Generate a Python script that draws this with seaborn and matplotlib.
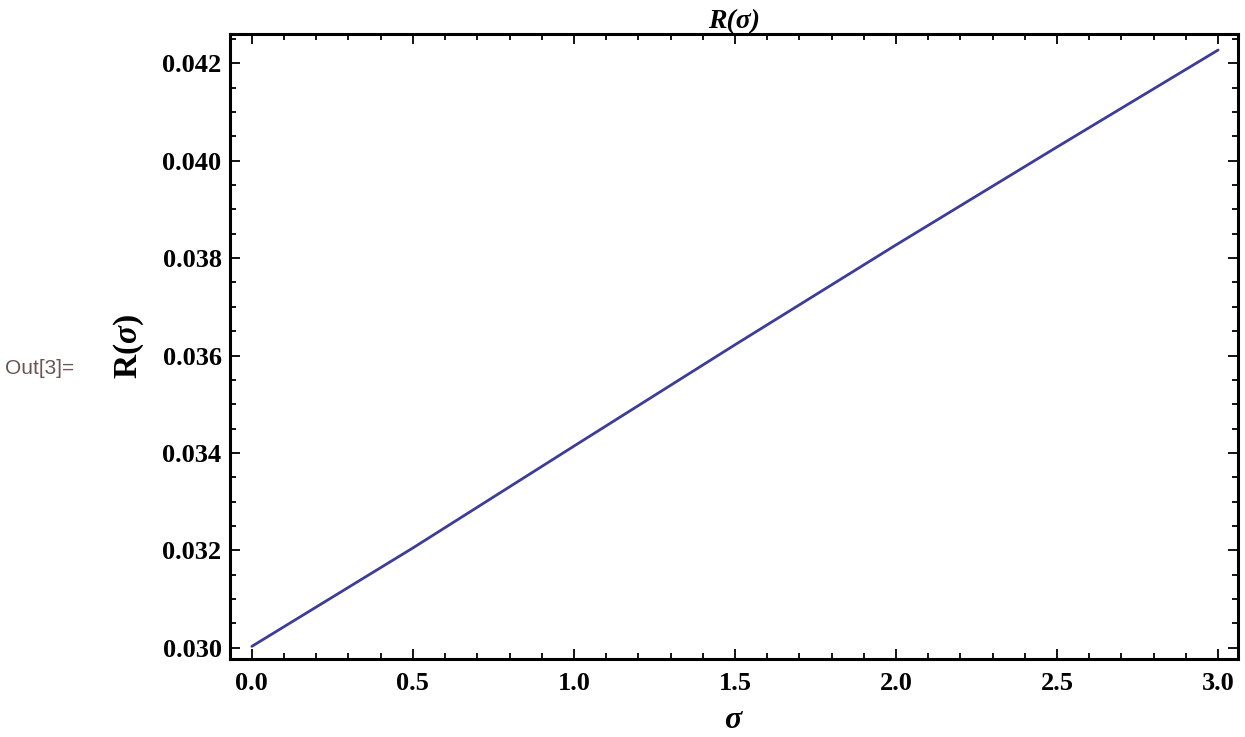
import pandas as pd
import matplotlib
matplotlib.use("Agg")
import matplotlib.pyplot as plt
import seaborn as sns
from matplotlib.ticker import MultipleLocator

# valores
sigma = [0.0, 0.5, 1.0, 1.5, 2.0, 2.5, 3.0]
r_sigma = [0.03003, 0.03205, 0.03414, 0.03622, 0.03827, 0.04028, 0.04227]

df = pd.DataFrame({"sigma": sigma, "R": r_sigma})

sns.set_style("ticks")
plt.rcParams["font.family"] = ["Liberation Serif", "DejaVu Serif"]
plt.rcParams["text.color"] = "black"
plt.rcParams["axes.labelcolor"] = "black"
plt.rcParams["xtick.color"] = "black"
plt.rcParams["ytick.color"] = "black"
plt.rcParams["mathtext.fontset"] = "custom"
plt.rcParams["mathtext.rm"] = "Liberation Serif:bold"
plt.rcParams["mathtext.it"] = "Liberation Serif:italic:bold"
plt.rcParams["mathtext.bf"] = "Liberation Serif:bold"

fig = plt.figure(figsize=(12.45, 7.37), dpi=100)
ax = fig.add_axes([0.1847, 0.1058, 0.8097, 0.8481])

sns.lineplot(data=df, x="sigma", y="R", ax=ax, color="#3d3d99", linewidth=2)

ax.set_xlim(-0.068, 3.062)
ax.set_ylim(0.02977, 0.0426)
ax.xaxis.set_major_locator(MultipleLocator(0.5))
ax.xaxis.set_minor_locator(MultipleLocator(0.1))
ax.yaxis.set_major_locator(MultipleLocator(0.002))
ax.yaxis.set_minor_locator(MultipleLocator(0.0005))
ax.xaxis.set_major_formatter(plt.FuncFormatter(lambda v, p: f"{v:.1f}"))
ax.yaxis.set_major_formatter(plt.FuncFormatter(lambda v, p: f"{v:.3f}"))

ax.tick_params(which="both", direction="in", top=True, right=True, width=1.3,
               color="black", labelcolor="black")
ax.tick_params(which="major", length=7)
ax.tick_params(which="minor", length=4)
ax.tick_params(axis="x", which="major", pad=9)
ax.tick_params(axis="y", which="major", pad=6)
for lbl in ax.get_xticklabels() + ax.get_yticklabels():
    lbl.set_fontsize(19)
    lbl.set_fontweight("bold")
for s in ax.spines.values():
    s.set_linewidth(2.2)
    s.set_color("black")

ax.set_title("R(σ)", fontsize=20, fontstyle="italic", fontweight="bold", pad=4, color="black")
ax.set_xlabel(r"$\sigma$", fontsize=23, labelpad=8, color="black")
ax.set_ylabel(r"$\mathrm{R(}\sigma\mathrm{)}$", fontsize=24, labelpad=12, color="black")

fig.text(0.004, 0.50, "Out[3]=", fontsize=15, color="#6b5555",
         family=["Liberation Sans", "DejaVu Sans"], va="center", ha="left")

fig.savefig("out.png", dpi=100)
